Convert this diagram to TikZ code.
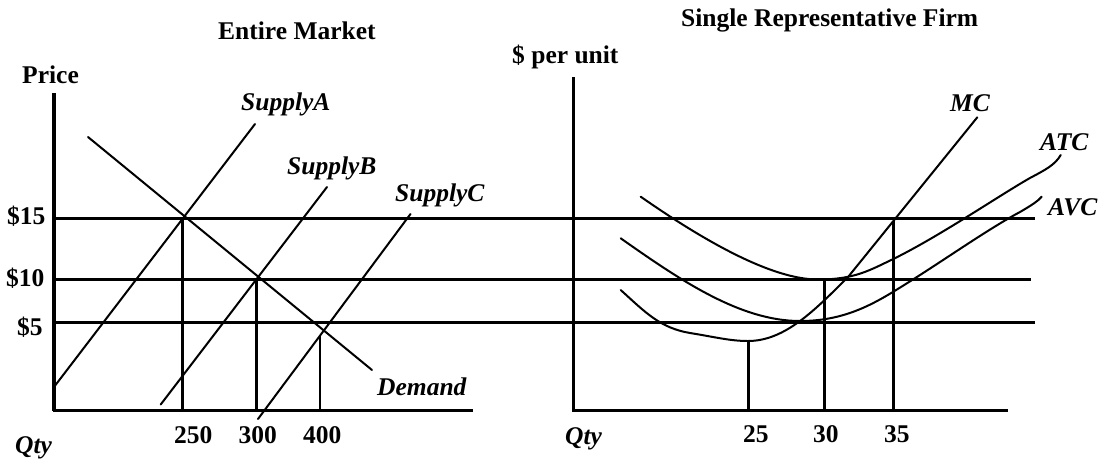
\documentclass[tikz,border=0pt]{standalone}
\usepackage{fontspec}
\setmainfont{Liberation Serif}
\begin{document}
\begin{tikzpicture}[x=1pt,y=-1pt,
  lbl/.style={inner sep=0pt,anchor=base west,font=\fontsize{25.5}{30}\selectfont\bfseries},
  ilbl/.style={lbl,font=\fontsize{25.5}{30}\selectfont\bfseries\itshape},
  axis/.style={line width=3.3pt},
  level/.style={line width=3.2pt},
  drop/.style={line width=2.8pt},
  curve/.style={line width=2pt,line cap=round,line join=round}]
\useasboundingbox (0,0) rectangle (1104,459);

% titles and axis labels
\node[lbl] (tmarket) at (218,39) {Entire Market};
\node[lbl] (tfirm) at (681,26) {Single Representative Firm};
\node[lbl] (price) at (22,83) {Price};
\node[lbl] (perunit) at (512,63) {\$ per unit};
\node[lbl] (p15) at (7,224.5) {\$15};
\node[lbl] (p10) at (6,286) {\$10};
\node[lbl] (p5) at (17,335) {\$5};
\node[ilbl] (qtyL) at (15,453) {Qty};
\node[ilbl] (qtyR) at (565,444.5) {Qty};
\node[lbl] (q250) at (174,443.5) {250};
\node[lbl] (q300) at (238.5,443.5) {300};
\node[lbl] (q400) at (303,443.5) {400};
\node[lbl] (q25) at (743,442) {25};
\node[lbl] (q30) at (813,442) {30};
\node[lbl] (q35) at (884,442) {35};

% curve labels
\node[ilbl] (lsa) at (241,110) {SupplyA};
\node[ilbl] (lsb) at (287,174) {SupplyB};
\node[ilbl] (lsc) at (395,201.5) {SupplyC};
\node[ilbl] (ldem) at (377,395) {Demand};
\node[ilbl] (lmc) at (950,111.5) {MC};
\node[ilbl] (latc) at (1040,150) {ATC};
\node[ilbl] (lavc) at (1048,215) {AVC};

% axes
\draw[axis] (54,93) -- (54,410.7);
\draw[axis] (52.5,410.7) -- (473.3,410.7);
\draw[axis] (573.5,77) -- (573.5,410.7);
\draw[axis] (572,410.7) -- (1008.3,410.7);

% price levels across both panels
\draw[level] (54,218.3) -- (1035,218.3);
\draw[level] (52,279.3) -- (1031,279.3);
\draw[level] (54,322.3) -- (1035,322.3);

% market supply and demand
\draw[curve] (54,387) -- (255,124);
\draw[curve] (160.7,404.5) -- (327,187);
\draw[curve] (258,419) -- (410.5,214);
\draw[curve] (88,137) -- (372,370);

% quantity drop lines
\draw[drop] (182.7,218) -- (182.7,410);
\draw[drop] (256.7,279) -- (256.7,410);
\draw[drop] (320,335) -- (320,410);
\draw[drop] (748.3,341.5) -- (748.3,410);
\draw[drop] (824.3,279) -- (824.3,410);
\draw[drop] (893.3,221) -- (893.3,410);

% ATC
\draw[curve] (640.7,196.7) .. controls (700,238) and (770,279.5) .. (818,279.5)
  .. controls (855,279.5) and (870,270) .. (893.3,259)
  .. controls (940,236) and (1000,195) .. (1030,178)
  .. controls (1045,170) and (1055,165) .. (1060.7,155);
% AVC
\draw[curve] (620.7,238.3) .. controls (680,280) and (740,321) .. (800,321)
  .. controls (850,321) and (880,300) .. (913.3,279.3)
  .. controls (950,256) and (990,228) .. (1020,212)
  .. controls (1032,205) and (1038,201) .. (1041.7,196.7);
% MC
\draw[curve] (620.7,290) .. controls (645,312) and (660,328) .. (690,333)
  .. controls (715,337) and (730,341) .. (748,341)
  .. controls (785,341) and (815,310) .. (848.3,276.7)
  -- (977.3,117.3);
\end{tikzpicture}
\end{document}
